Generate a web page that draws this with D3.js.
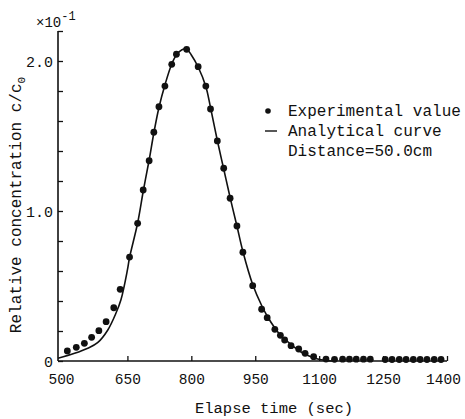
<!DOCTYPE html>
<html>
<head>
<meta charset="utf-8">
<script src="https://cdn.jsdelivr.net/npm/d3@7"></script>
<style>
  body { margin: 0; background: #fff; }
  text { font-family: "Liberation Mono", "DejaVu Sans Mono", monospace; fill: #111; }
</style>
</head>
<body>
<div id="chart"></div>
<script>
// data (concentration in units of 1e-1)
const expTime = [509, 530, 549, 566, 583, 600, 618, 633, 655, 674, 687, 701, 712, 724, 738, 754, 765, 789,
  816, 834, 845, 861, 876, 891, 907, 921, 944, 965, 978, 996, 1009, 1019, 1034, 1052, 1067, 1087, 1116, 1136,
  1155, 1171, 1187, 1204, 1220, 1255, 1271, 1288, 1304, 1321, 1337, 1353, 1370, 1386];
const expConc = [0.067, 0.091, 0.118, 0.158, 0.202, 0.262, 0.355, 0.478, 0.693, 0.918, 1.14, 1.335, 1.525,
  1.695, 1.833, 1.978, 2.045, 2.078, 1.962, 1.833, 1.68, 1.467, 1.285, 1.085, 0.9, 0.725, 0.502, 0.345, 0.289,
  0.211, 0.171, 0.14, 0.102, 0.08, 0.051, 0.029, 0.013, 0.011, 0.012, 0.012, 0.012, 0.012, 0.012,
  0.01, 0.01, 0.01, 0.01, 0.01, 0.01, 0.01, 0.01, 0.01];

const curveTime = [487, 526, 557, 580, 604, 623, 635, 650, 655, 674, 687, 701, 712, 724, 738, 754, 765, 778,
  789, 800, 816, 834, 845, 861, 876, 891, 907, 921, 944, 965, 980, 996, 1010, 1034, 1052, 1067, 1087, 1105, 1130];
const curveConc = [0.018, 0.051, 0.085, 0.122, 0.207, 0.318, 0.41, 0.607, 0.69, 0.92, 1.13, 1.34, 1.52, 1.69,
  1.84, 1.98, 2.04, 2.075, 2.08, 2.04, 1.96, 1.83, 1.69, 1.47, 1.28, 1.09, 0.9, 0.73, 0.51, 0.37, 0.29, 0.22,
  0.17, 0.11, 0.07, 0.045, 0.022, 0.008, 0.0];

const xTicks = [650, 800, 950, 1100, 1250, 1400];
const xTickLabels = ["500", "650", "800", "950", "1100", "1250", "1400"];
const yTicks = [0, 0.2, 0.4, 0.6, 0.8, 1.0, 1.2, 1.4, 1.6, 1.8, 2.0, 2.2];
const yTickLabels = { 0: "0", 1: "1.0", 2: "2.0" };

const legendLabels = ["Experimental value", "Analytical curve", "Distance=50.0cm"];

// layout
const W = 465, H = 419;
const axisX = 58;    // y axis position
const baseY = 361;   // x axis position

const svg = d3.select("#chart").append("svg")
  .attr("width", W)
  .attr("height", H);

const x = d3.scaleLinear().domain([500, 1400]).range([63.5, 447]);
const y = d3.scaleLinear().domain([0, 2.2]).range([baseY, 31]);

// axis lines
svg.append("line")
  .attr("x1", axisX).attr("x2", axisX)
  .attr("y1", baseY).attr("y2", y(2.2))
  .attr("stroke", "#111").attr("stroke-width", 1.6);
svg.append("line")
  .attr("x1", axisX).attr("x2", x(1400))
  .attr("y1", baseY).attr("y2", baseY)
  .attr("stroke", "#111").attr("stroke-width", 1.6);

// y axis: ticks pointing inward
const yAxis = svg.append("g")
  .attr("transform", `translate(${axisX},0)`)
  .call(d3.axisLeft(y).tickValues(yTicks).tickSizeInner(-5).tickSizeOuter(0).tickPadding(5)
    .tickFormat(d => yTickLabels[Math.round(d * 10) / 10] || ""));
yAxis.select(".domain").remove();
yAxis.selectAll(".tick line").attr("stroke", "#111").attr("stroke-width", 1.3);
yAxis.selectAll(".tick text").style("font-size", "15px").attr("dy", "0.38em");

// x axis: ticks pointing up
const xAxis = svg.append("g")
  .attr("transform", `translate(0,${baseY})`)
  .call(d3.axisBottom(x).tickValues(xTicks).tickSizeInner(-5).tickSizeOuter(0).tickPadding(13)
    .tickFormat(d3.format("d")));
xAxis.select(".domain").remove();
xAxis.selectAll(".tick line").attr("stroke", "#111").attr("stroke-width", 1.3);
xAxis.selectAll(".tick text").style("font-size", "14.5px")
  .attr("dx", d => d === 1400 ? "-4" : "0");

// 500 label sits at the origin, no tick
svg.append("text")
  .attr("x", x(500) - 2)
  .attr("y", baseY + 13)
  .attr("dy", "0.71em")
  .attr("text-anchor", "middle")
  .style("font-size", "14.5px")
  .text(xTickLabels[0]);

// multiplier
const mult = svg.append("text")
  .attr("x", 36).attr("y", 27)
  .style("font-size", "14px");
mult.append("tspan").text("×10");
mult.append("tspan").attr("dy", -7).style("font-size", "12px").text("-1");

// axis titles
const yTitle = svg.append("text")
  .attr("transform", `translate(21,205) rotate(-90)`)
  .attr("text-anchor", "middle")
  .style("font-size", "16px");
yTitle.append("tspan").text("Relative concentration c/c");
yTitle.append("tspan").attr("dy", 4).style("font-size", "11px").text("0");

svg.append("text")
  .attr("x", 274).attr("y", 413)
  .attr("text-anchor", "middle")
  .style("font-size", "15.5px")
  .text("Elapse time (sec)");

// analytical curve
const line = d3.line()
  .x(d => x(d[0]))
  .y(d => y(d[1]))
  .curve(d3.curveCatmullRom.alpha(0.5));

svg.append("path")
  .datum(d3.zip(curveTime, curveConc))
  .attr("fill", "none")
  .attr("stroke", "#111")
  .attr("stroke-width", 1.6)
  .attr("d", line);

// experimental points
svg.selectAll("circle.exp")
  .data(d3.zip(expTime, expConc))
  .enter()
  .append("circle")
  .attr("class", "exp")
  .attr("cx", d => x(d[0]))
  .attr("cy", d => y(d[1]))
  .attr("r", 3.4)
  .attr("fill", "#111");

// legend
const lx = 268;
svg.append("circle").attr("cx", lx).attr("cy", 111).attr("r", 2.8).attr("fill", "#111");
svg.append("line")
  .attr("x1", lx - 3).attr("x2", lx + 9)
  .attr("y1", 131).attr("y2", 131)
  .attr("stroke", "#111").attr("stroke-width", 1.4);
legendLabels.forEach((t, i) => {
  svg.append("text")
    .attr("x", 288)
    .attr("y", 116 + i * 20)
    .style("font-size", "16px")
    .text(t);
});
</script>
</body>
</html>
